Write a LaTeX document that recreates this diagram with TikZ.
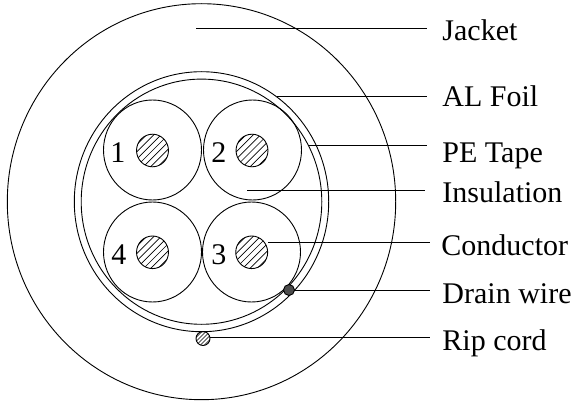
\documentclass[tikz,border=0pt]{standalone}
\usepackage{fontspec}
\setmainfont{Liberation Serif}
\usetikzlibrary{shapes.geometric,calc}
\newcommand{\hatchlines}{%
  \foreach \k in {-8,...,8}{\draw[line width=0.7pt] ($(path picture bounding box.center)+(\k*7.2-30,30)$) -- ++(60,-60);}%
}
\tikzset{
  x=1pt,y=-1pt,
  every path/.style={line width=0.9pt},
  disc/.style={draw,ellipse,inner sep=0pt,minimum width=#1*1.96pt,minimum height=#1*2pt},
  core/.style={disc=16.3,path picture={\hatchlines}},
  lab/.style={anchor=base west,inner sep=0pt,font=\fontsize{30}{30}\selectfont},
  num/.style={anchor=base west,inner sep=0pt,font=\fontsize{30}{30}\selectfont},
  leader/.style={line width=0.9pt},
}
\begin{document}
\begin{tikzpicture}
\useasboundingbox (0,0) rectangle (573,401);
% sheath and foil
\node[draw,ellipse,inner sep=0pt,minimum width=388.4pt,minimum height=396pt] (jacket) at (201.5,201.7) {};
\node[draw,ellipse,inner sep=0pt,minimum width=254.4pt,minimum height=260pt] (foil) at (201.5,201.7) {};
\node[draw,ellipse,inner sep=0pt,minimum width=240.6pt,minimum height=245.2pt] (tape) at (201.5,201.7) {};
% pairs
\node[disc=50] (ins1) at (152.5,150) {};
\node[disc=50] (ins2) at (252.5,150) {};
\node[disc=50] (ins3) at (251.5,252) {};
\node[disc=50] (ins4) at (152.5,252) {};
\node[core] (core1) at (152.5,150.5) {};
\node[core] (core2) at (252,150.5) {};
\node[core] (core3) at (251.7,252.3) {};
\node[core] (core4) at (152.5,252.3) {};
\node[num] (n1) at (110,162) {1};
\node[num] (n2) at (211,162) {2};
\node[num] (n3) at (211,264) {3};
\node[num] (n4) at (111,264) {4};
% drain and rip cord
\node[draw,fill=black!70,ellipse,inner sep=0pt,minimum width=11pt,minimum height=11pt] (drain) at (289,290) {};
\node[draw,ellipse,inner sep=0pt,minimum width=14pt,minimum height=14pt,path picture={\foreach \k in {-4,...,4}{\draw[line width=0.7pt] ($(path picture bounding box.center)+(\k*4-15,15)$) -- ++(30,-30);}}] (rip) at (203,338.5) {};
% labels
\node[lab] (jacketL) at (442,41) {Jacket};
\node[lab] (foilL) at (442,107) {AL Foil};
\node[lab] (tapeL) at (442,162) {PE Tape};
\node[lab] (insL) at (442,202) {Insulation};
\node[lab] (condL) at (441,255) {Conductor};
\node[lab] (drainL) at (442,303) {Drain wire};
\node[lab] (ripL) at (442,350) {Rip cord};
% leader ends
\coordinate (a1) at (196,28.5);  \coordinate (a2) at (427,28.5);
\coordinate (b1) at (277,96.5);  \coordinate (b2) at (427,96.5);
\coordinate (c1) at (308,145);   \coordinate (c2) at (427,145);
\coordinate (d1) at (247,190);   \coordinate (d2) at (425,190);
\coordinate (e2) at (430,242);
\coordinate (f2) at (430,290);
\coordinate (g2) at (430,337);
\draw[leader] (a1) -- (a2);
\draw[leader] (b1) -- (b2);
\draw[leader] (c1) -- (c2);
\draw[leader] (d1) -- (d2);
\draw[leader] (core3.east |- e2) -- (e2);
\draw[leader] (drain.east) -- (f2);
\draw[leader] (rip.east |- g2) -- (g2);
\end{tikzpicture}
\end{document}
